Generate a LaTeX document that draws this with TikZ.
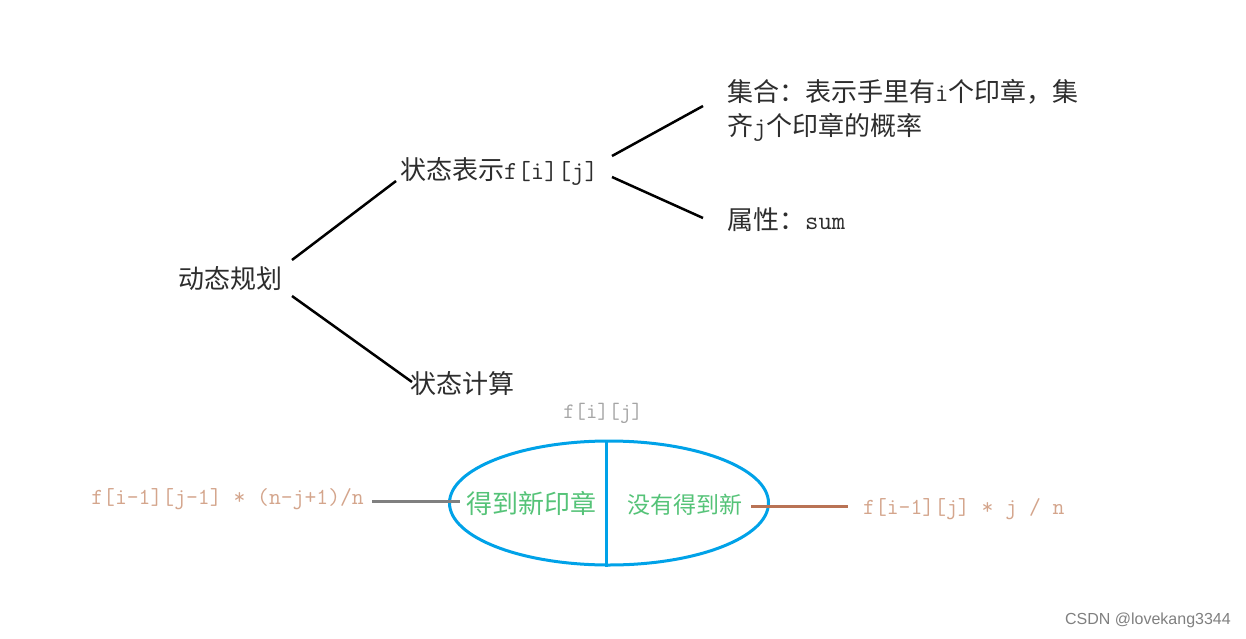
\documentclass[tikz,border=0pt]{standalone}
\usepackage{fontspec}
\usetikzlibrary{shapes.geometric}
\setmainfont{Noto Sans CJK SC}
\newfontfamily\monof{Latin Modern Mono}
\newfontfamily\wmfont{Liberation Sans}
\newcommand\mn[1]{{\monof\fontsize{26}{28}\selectfont #1}}
\definecolor{txt}{RGB}{45,45,45}
\definecolor{tan}{RGB}{212,165,140}
\definecolor{brownl}{RGB}{185,115,85}
\definecolor{greent}{RGB}{85,195,120}
\definecolor{bluel}{RGB}{0,162,232}
\definecolor{grayl}{RGB}{128,128,128}
\definecolor{graytxt}{RGB}{165,165,165}
\tikzset{
  lbl/.style={inner sep=0pt, text=txt, font=\fontsize{26}{34}\selectfont, anchor=west},
  conn/.style={line width=2.5pt, black},
  formula/.style={inner sep=0pt, text=tan, font=\monof\fontsize{23}{26}\selectfont},
  greenlbl/.style={inner sep=0pt, text=greent},
}
\begin{document}
\begin{tikzpicture}[x=1pt,y=-1pt]
\useasboundingbox[fill=white] (0,0) rectangle (1246,639);
% tree
\node[lbl] (dp) at (178,279) {动态规划};
\node[lbl] (rep) at (400,171) {状态表示\mn{f[i][j]}};
\node[lbl, align=left] (set) at (727,110) {集合：表示手里有\mn{i}个印章，集\\齐\mn{j}个印章的概率};
\node[lbl] (attr) at (727,220) {属性：\mn{sum}};
\node[lbl] (calc) at (410,384) {状态计算};
\coordinate (dpA) at (292,260);
\coordinate (dpB) at (292,296);
\coordinate (repA) at (396,181);
\coordinate (calcA) at (412,382);
\coordinate (repC) at (612,156);
\coordinate (repD) at (612,177);
\coordinate (setA) at (703,106);
\coordinate (attrA) at (703,218);
\draw[conn] (dpA) -- (repA);
\draw[conn] (dpB) -- (calcA);
\draw[conn] (repC) -- (setA);
\draw[conn] (repD) -- (attrA);
% ellipse
\node[inner sep=0pt, text=graytxt, font=\monof\fontsize{22}{24}\selectfont] (fij) at (603,413) {f[i][j]};
\node[draw=bluel, line width=3pt, ellipse, minimum width=319pt, minimum height=124pt, inner sep=0pt] (el) at (609,503) {};
\coordinate (vt) at (606,440);
\coordinate (vb) at (606,567);
\draw[bluel, line width=3pt] (vt) -- (vb);
\node[greenlbl, font=\fontsize{26}{30}\selectfont, anchor=west] (g1) at (466,503) {得到新印章};
\node[greenlbl, font=\fontsize{23}{28}\selectfont, anchor=west] (g2) at (627,505) {没有得到新};
\node[formula, anchor=east] (fl) at (364,499) {f[i-1][j-1] * (n-j+1)/n};
\node[formula, anchor=west] (fr) at (863,509) {f[i-1][j] * j / n};
\coordinate (glA) at (372,501);
\coordinate (glB) at (460,501);
\coordinate (brA) at (751,506);
\coordinate (brB) at (848,506);
\draw[grayl, line width=3pt] (glA) -- (glB);
\draw[brownl, line width=3pt] (brA) -- (brB);
% watermark
\node[inner sep=0pt, anchor=east, text=grayl, font=\wmfont\fontsize{16}{18}\selectfont] (wm) at (1231,620) {CSDN @lovekang3344};
\end{tikzpicture}
\end{document}
